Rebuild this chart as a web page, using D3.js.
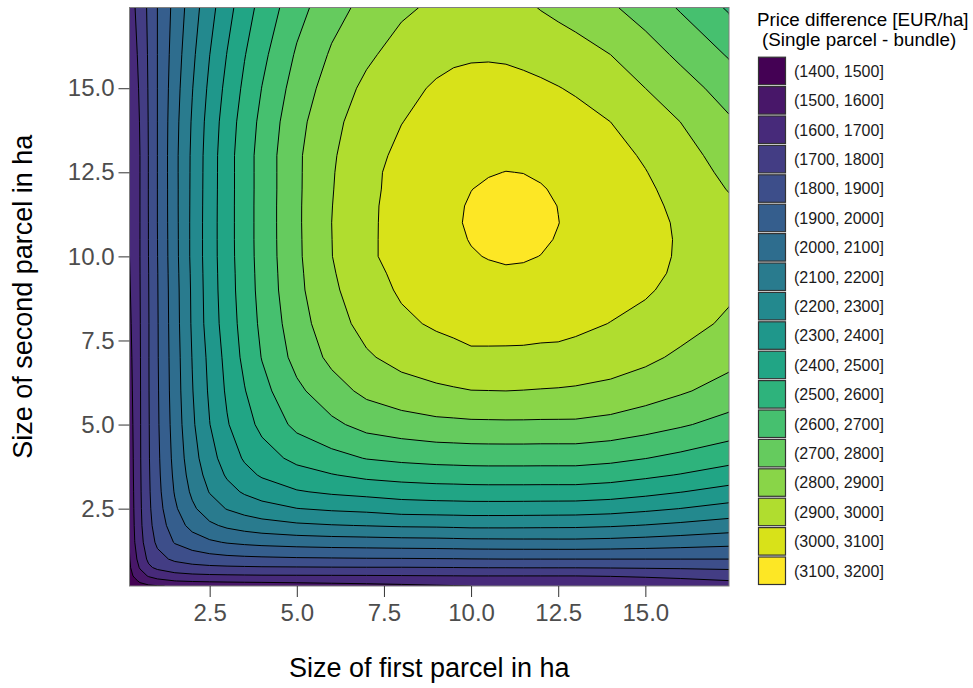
<!DOCTYPE html>
<html>
<head>
<meta charset="utf-8">
<script src="https://cdn.jsdelivr.net/npm/d3@7"></script>
<style>
  body { margin: 0; background: #fff; }
  text { font-family: "Liberation Sans", Arial, sans-serif; }
</style>
</head>
<body>
<script>

// grid positions (ha) for both parcel sizes
const sizes = [0.2, 0.35, 0.5, 0.75, 1, 1.5, 2, 2.5, 3, 3.5, 4, 5, 6, 7, 8, 9, 9.5, 10, 10.5, 11, 11.5, 12, 12.5, 13, 14, 15, 16, 17.4];

// price difference, row = second parcel, col = first parcel (col <= row)
// the surface is symmetric, so only the lower triangle is kept
const priceRows = [
  [1420],
  [1450, 1478],
  [1470, 1515, 1556],
  [1487, 1550, 1609, 1685],
  [1495, 1573, 1639, 1719, 1769],
  [1507, 1599, 1667, 1754, 1818, 1907],
  [1516, 1610, 1679, 1771, 1845, 1951, 2031],
  [1523, 1616, 1684, 1781, 1860, 1985, 2082, 2155],
  [1530, 1619, 1687, 1786, 1870, 2007, 2118, 2205, 2267],
  [1536, 1622, 1689, 1789, 1876, 2020, 2142, 2237, 2312, 2370],
  [1542, 1623, 1691, 1792, 1880, 2030, 2160, 2263, 2345, 2411, 2458],
  [1555, 1625, 1692, 1794, 1886, 2042, 2183, 2298, 2392, 2462, 2525, 2625],
  [1567, 1627, 1693, 1796, 1889, 2050, 2195, 2315, 2415, 2495, 2569, 2679, 2760],
  [1577, 1628, 1694, 1797, 1892, 2054, 2203, 2326, 2431, 2524, 2604, 2732, 2823, 2888],
  [1586, 1630, 1696, 1797, 1893, 2059, 2212, 2345, 2446, 2539, 2621, 2757, 2859, 2932, 2982],
  [1594, 1630, 1698, 1799, 1895, 2062, 2215, 2350, 2455, 2548, 2632, 2775, 2882, 2959, 3012, 3042],
  [1597, 1631, 1699, 1800, 1896, 2065, 2218, 2352, 2457, 2550, 2635, 2778, 2890, 2972, 3021, 3054, 3067],
  [1600, 1632, 1700, 1802, 1898, 2068, 2222, 2354, 2460, 2553, 2638, 2782, 2898, 2985, 3030, 3065, 3080, 3095],
  [1603, 1634, 1700, 1803, 1899, 2069, 2222, 2354, 2461, 2554, 2639, 2783, 2899, 2983, 3034, 3070, 3088, 3103, 3115],
  [1606, 1636, 1700, 1803, 1900, 2070, 2222, 2354, 2461, 2554, 2639, 2784, 2900, 2982, 3035, 3073, 3092, 3108, 3122, 3135],
  [1609, 1638, 1700, 1804, 1900, 2071, 2221, 2353, 2461, 2554, 2639, 2784, 2898, 2980, 3036, 3072, 3090, 3106, 3119, 3129, 3125],
  [1612, 1640, 1700, 1804, 1900, 2071, 2220, 2352, 2460, 2554, 2638, 2783, 2895, 2977, 3031, 3067, 3084, 3099, 3109, 3115, 3113, 3105],
  [1615, 1642, 1700, 1804, 1900, 2072, 2219, 2351, 2460, 2554, 2638, 2783, 2892, 2978, 3026, 3058, 3073, 3086, 3096, 3101, 3099, 3091, 3080],
  [1618, 1644, 1700, 1804, 1900, 2072, 2218, 2350, 2460, 2554, 2638, 2783, 2888, 2968, 3020, 3047, 3060, 3073, 3080, 3085, 3082, 3078, 3066, 3053],
  [1624, 1650, 1705, 1806, 1900, 2067, 2210, 2340, 2449, 2542, 2625, 2769, 2873, 2950, 2998, 3032, 3043, 3052, 3056, 3057, 3053, 3045, 3039, 3030, 3000],
  [1632, 1662, 1714, 1809, 1900, 2058, 2196, 2321, 2428, 2520, 2602, 2743, 2845, 2922, 2975, 3010, 3025, 3030, 3032, 3030, 3023, 3014, 3003, 2990, 2950, 2900],
  [1640, 1676, 1725, 1812, 1900, 2047, 2179, 2299, 2403, 2495, 2575, 2712, 2812, 2882, 2940, 2975, 2984, 2990, 2991, 2988, 2980, 2970, 2957, 2942, 2900, 2845, 2780],
  [1650, 1697, 1742, 1818, 1900, 2031, 2153, 2265, 2365, 2455, 2533, 2664, 2762, 2830, 2882, 2918, 2930, 2938, 2940, 2935, 2918, 2895, 2875, 2854, 2813, 2756, 2691, 2587]
];

const breaks = [1400, 1500, 1600, 1700, 1800, 1900, 2000, 2100, 2200, 2300, 2400, 2500, 2600, 2700, 2800, 2900, 3000, 3100, 3200];
const legendLabels = ["(1400, 1500]", "(1500, 1600]", "(1600, 1700]", "(1700, 1800]", "(1800, 1900]",
  "(1900, 2000]", "(2000, 2100]", "(2100, 2200]", "(2200, 2300]", "(2300, 2400]", "(2400, 2500]",
  "(2500, 2600]", "(2600, 2700]", "(2700, 2800]", "(2800, 2900]", "(2900, 3000]", "(3000, 3100]", "(3100, 3200]"];
const xTicks = [2.5, 5, 7.5, 10, 12.5, 15];
const yTicks = [2.5, 5, 7.5, 10, 12.5, 15];

const w = 973, h = 688;
const panel = {left: 129.5, right: 729, top: 7.5, bottom: 586};

const svg = d3.select("body")
  .append("svg")
  .attr("width", w)
  .attr("height", h);

const xScale = d3.scaleLinear().domain([0.2, 17.4]).range([panel.left, panel.right]);
const yScale = d3.scaleLinear().domain([0.2, 17.4]).range([panel.bottom, panel.top]);

// band colours
const nBands = breaks.length - 1;
const color = i => d3.interpolateViridis(i / (nBands - 1));

// full grid
const n = sizes.length;
const grid = new Array(n * n);
for (let j = 0; j < n; j++) {
  for (let i = 0; i < n; i++) {
    grid[j * n + i] = i <= j ? priceRows[j][i] : priceRows[i][j];
  }
}

const bands = d3.contours()
  .size([n, n])
  .thresholds(breaks.slice(0, -1))(grid);

// grid index -> ha (sample i sits at i + 0.5), edges pushed just outside the panel
const idxToSize = d3.scaleLinear()
  .domain([0, ...sizes.map((d, i) => i + 0.5), n])
  .range([sizes[0] - 0.3, ...sizes, sizes[n - 1] + 0.3]);

const path = d3.geoPath(d3.geoTransform({
  point: function(px, py) {
    this.stream.point(xScale(idxToSize(px)), yScale(idxToSize(py)));
  }
}));

svg.append("clipPath")
  .attr("id", "clip")
  .append("rect")
  .attr("x", panel.left)
  .attr("y", panel.top)
  .attr("width", panel.right - panel.left)
  .attr("height", panel.bottom - panel.top);

const plot = svg.append("g").attr("clip-path", "url(#clip)");

plot.selectAll("path.band")
  .data(bands)
  .enter()
  .append("path")
  .attr("class", "band")
  .attr("d", path)
  .attr("fill", (d, i) => color(i))
  .attr("stroke", "none");

plot.selectAll("path.line")
  .data(bands.slice(1))
  .enter()
  .append("path")
  .attr("class", "line")
  .attr("d", path)
  .attr("fill", "none")
  .attr("stroke", "#000")
  .attr("stroke-width", 1);

// panel border
svg.append("rect")
  .attr("x", panel.left)
  .attr("y", panel.top)
  .attr("width", panel.right - panel.left)
  .attr("height", panel.bottom - panel.top)
  .attr("fill", "none")
  .attr("stroke", "#7f7f7f")
  .attr("stroke-width", 1);

// axes
const xAxis = d3.axisBottom(xScale).tickValues(xTicks).tickFormat(d3.format(".1f"))
  .tickSizeInner(11).tickSizeOuter(0).tickPadding(7);
const yAxis = d3.axisLeft(yScale).tickValues(yTicks).tickFormat(d3.format(".1f"))
  .tickSizeInner(11).tickSizeOuter(0).tickPadding(4);

const gx = svg.append("g")
  .attr("transform", "translate(0," + panel.bottom + ")")
  .call(xAxis);
const gy = svg.append("g")
  .attr("transform", "translate(" + panel.left + ",0)")
  .call(yAxis);

[gx, gy].forEach(g => {
  g.select(".domain").remove();
  g.selectAll(".tick line").attr("stroke", "#333").attr("stroke-width", 1);
  g.selectAll(".tick text")
    .attr("fill", "#4d4d4d")
    .style("font-size", "24px")
    .style("font-family", "'Liberation Sans', Arial, sans-serif");
});

svg.append("text")
  .attr("x", (panel.left + panel.right) / 2)
  .attr("y", 677)
  .attr("text-anchor", "middle")
  .style("font-size", "27px")
  .attr("fill", "#000")
  .text("Size of first parcel in ha");

svg.append("text")
  .attr("transform", "translate(32," + ((panel.top + panel.bottom) / 2) + ") rotate(-90)")
  .attr("text-anchor", "middle")
  .style("font-size", "27px")
  .attr("fill", "#000")
  .text("Size of second parcel in ha");

// legend
const legend = svg.append("g");

legend.append("text")
  .attr("x", 757)
  .attr("y", 26)
  .style("font-size", "18.8px")
  .text("Price difference [EUR/ha]");
legend.append("text")
  .attr("x", 762)
  .attr("y", 46)
  .style("font-size", "18.8px")
  .text("(Single parcel - bundle)");

const keyStep = 29.4, keyTop = 56.7;
const keys = legend.selectAll("g.key")
  .data(legendLabels)
  .enter()
  .append("g")
  .attr("class", "key")
  .attr("transform", (d, i) => "translate(758," + (keyTop + i * keyStep) + ")");

keys.append("rect")
  .attr("x", 0.5)
  .attr("y", 0.5)
  .attr("width", 27)
  .attr("height", 27.5)
  .attr("fill", (d, i) => color(i))
  .attr("stroke", "#333")
  .attr("stroke-width", 1.2);

keys.append("text")
  .attr("x", 36)
  .attr("y", 14.5)
  .attr("dy", "0.35em")
  .style("font-size", "16px")
  .attr("fill", "#1a1a1a")
  .text(d => d);

</script>
</body>
</html>
